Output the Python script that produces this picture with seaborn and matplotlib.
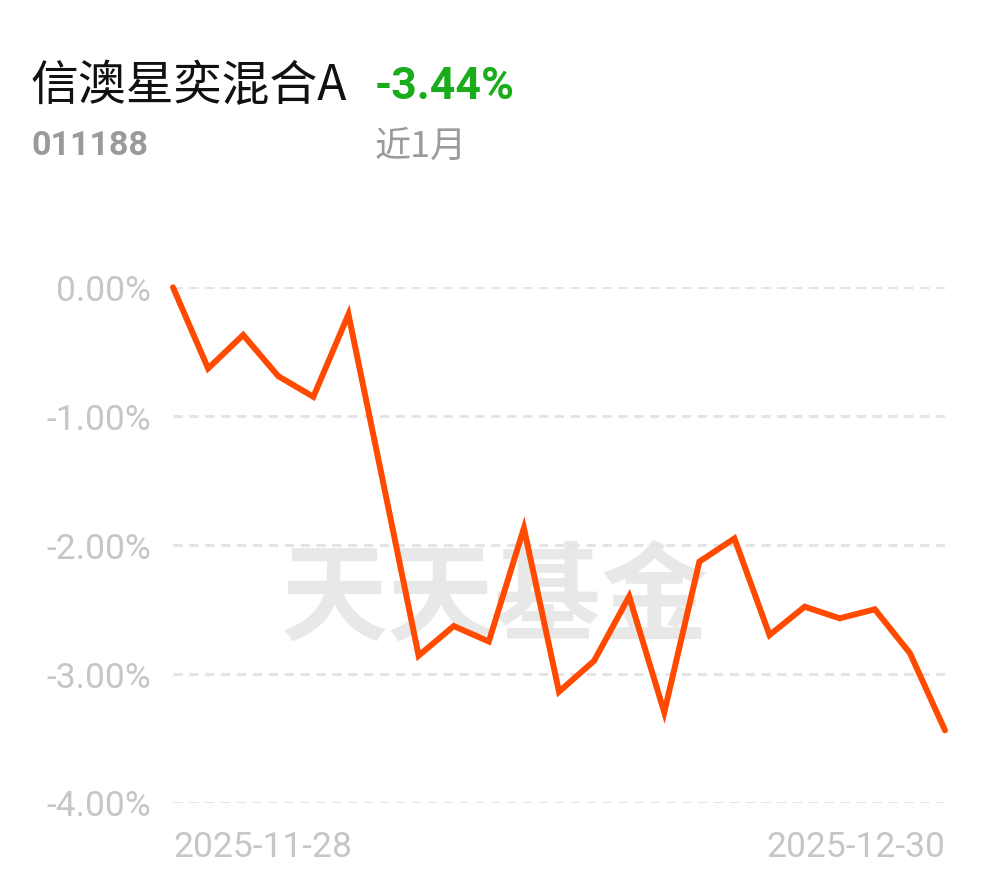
import matplotlib

matplotlib.use('Agg')
import matplotlib.pyplot as plt
import pandas as pd
import seaborn as sns

# --- data ---
fund_name = "信澳星奕混合A"
fund_code = "011188"
period_label = "近1月"
period_return = "-3.44%"

dates = ["2025-11-28",
         "2025-12-01", "2025-12-02", "2025-12-03", "2025-12-04", "2025-12-05",
         "2025-12-08", "2025-12-09", "2025-12-10", "2025-12-11", "2025-12-12",
         "2025-12-15", "2025-12-16", "2025-12-17", "2025-12-18", "2025-12-19",
         "2025-12-22", "2025-12-23", "2025-12-24", "2025-12-25", "2025-12-26",
         "2025-12-29", "2025-12-30"]
returns = [0.00, -0.63, -0.37, -0.69, -0.85, -0.21, -1.53, -2.86, -2.63, -2.75,
           -1.87, -3.14, -2.90, -2.40, -3.30, -2.13, -1.95, -2.70, -2.48, -2.57,
           -2.50, -2.84, -3.44]
y_ticks = [0.0, -1.0, -2.0, -3.0, -4.0]

sns.set_theme(style="white")
plt.rcParams['font.family'] = ['Roboto', 'Noto Sans CJK SC', 'DejaVu Sans']

W, H = 990, 878
fig = plt.figure(figsize=(W / 100, H / 100), dpi=100)


def fx(px):
    return px / W


def fy(py):
    return 1 - py / H


ax = fig.add_axes([fx(173), fy(803.5), fx(945) - fx(173), fy(288.3) - fy(803.5)])

df = pd.DataFrame({"idx": range(len(dates)), "ret": returns})

# watermark behind the line
ax.text(0.417, 0.395, "天天基金", transform=ax.transAxes, ha='center', va='center',
        fontsize=77, fontweight='bold', color='#e8e8e8',
        family=['Noto Sans CJK SC'], zorder=0)

sns.lineplot(data=df, x="idx", y="ret", ax=ax, color='#ff4a00', linewidth=4.3,
             solid_joinstyle='miter', solid_capstyle='round', zorder=3)
for ln in ax.lines:
    ln.set_clip_on(False)

ax.set_xlim(0, len(dates) - 1)
ax.set_ylim(-4, 0)
ax.set_yticks(y_ticks)
ax.set_yticklabels([f"{v:.2f}%" for v in y_ticks])
ax.set_xticks([0, len(dates) - 1])
ax.set_xticklabels([dates[0], dates[-1]])
xl = ax.get_xticklabels()
xl[0].set_ha('left')
xl[1].set_ha('right')

ax.tick_params(axis='y', length=0, pad=16, labelsize=25.5, labelcolor='#c6c6c6')
ax.tick_params(axis='x', length=0, pad=20, labelsize=25.5, labelcolor='#c6c6c6')
ax.set_xlabel("")
ax.set_ylabel("")
for s in ax.spines.values():
    s.set_visible(False)
ax.grid(axis='y', color='#e4e4e4', linewidth=2.2, linestyle=(0, (3, 2.2)))
ax.grid(axis='x', visible=False)
ax.patch.set_alpha(0)

# header texts
fig.text(fx(30), fy(86), fund_name, fontsize=34.5, color='#111111',
         family=['Noto Sans CJK SC'], va='center', ha='left')
fig.text(fx(375), fy(87), period_return, fontsize=32, color='#1aac1a',
         fontweight='bold', va='center', ha='left', family=['Roboto'])
fig.text(fx(31), fy(146), fund_code, fontsize=24.5, color='#9a9a9a',
         fontweight='bold', va='center', ha='left', family=['Roboto'])
fig.text(fx(375), fy(147), period_label, fontsize=26, color='#9a9a9a',
         va='center', ha='left', family=['Noto Sans CJK SC'])

fig.savefig("out.png", dpi=100, facecolor='white')
